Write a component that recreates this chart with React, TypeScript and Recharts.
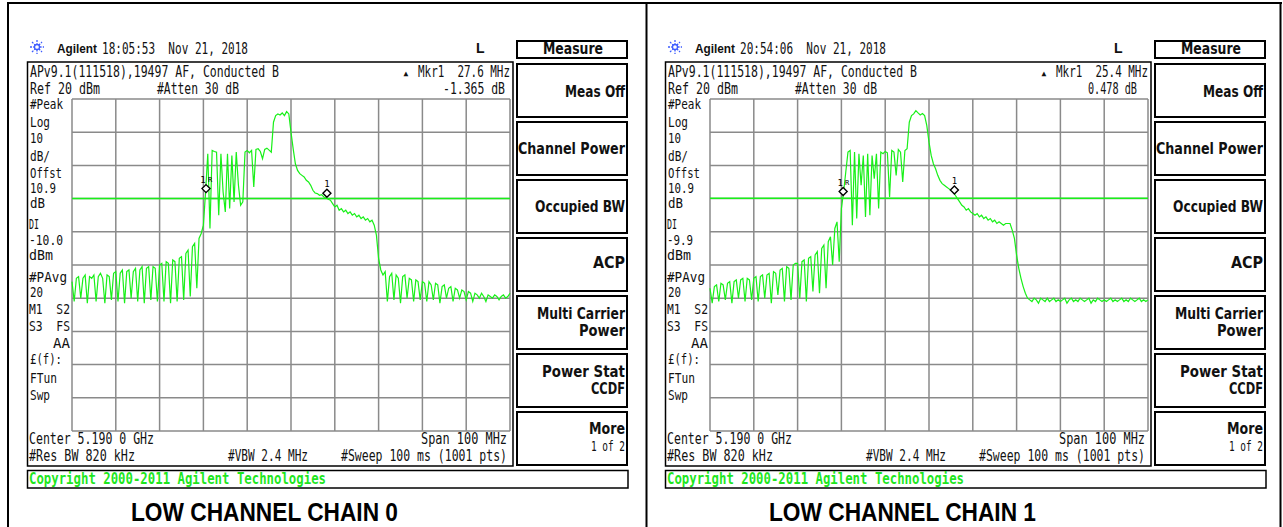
import React from "react";
import { LineChart, Line, XAxis, YAxis, ReferenceLine, ReferenceDot } from "recharts";

// sweep: 5.140 .. 5.240 GHz, one reading every 0.5 MHz
const START_MHZ = 5140;
const STEP_MHZ = 0.5;
const FREQ_TICKS = [5140, 5150, 5160, 5170, 5180, 5190, 5200, 5210, 5220, 5230, 5240];
const LEVEL_TICKS = [-80, -70, -60, -50, -40, -30, -20, -10, 0, 10, 20];

// trace levels in dBm, one row per 10 MHz division
const CHAIN0_DBM = [
  -35, -41, -34, -33.5, -40, -34, -33, -41.5, -33.5, -34, -33, -41, -33.5, -32.5, -34, -41.5, -33, -33.5, -40.5, -32.5,
  -32, -41, -32.5, -31.5, -41.5, -32, -31.5, -40, -32, -31, -41, -31.5, -30.5, -41.5, -31, -30.5, -40.5, -30.5, -31, -41,
  -30, -29.5, -41, -29, -29.5, -41.5, -28.5, -29, -41, -28, -27.5, -40.5, -26.5, -25.5, -39.5, -24.5, -23.5, -37, -22, -20.5,
  -18, -8, 3.5, -19, 4.5, 4.2, 4.0, -15, 3.5, -8, -14, 3.5, -13, 3.0, -11, 4.0, -6, -12, -11, 4.0,
  4.5, 3.8, 4.5, -6.5, 4.8, 5.0, 4.2, 2, 4.8, 5.2, 4.6, 4.0, 13, 15.0, 15.5, 15.2, 15.8, 15.0, 16.2, 15.5,
  10, 5, 0.5, -1.5, -2.5, -3, -3.5, -4.5, -5, -6, -7.5, -8.3, -8.5, -9, -8.8, -9.5, -9.8, -10.2, -10.5, -11.5,
  -12.5, -12, -13.5, -13, -14, -13.5, -14.5, -14, -15, -14.5, -15.5, -15, -16, -15.5, -16.5, -16, -17, -16.5, -18, -21,
  -28, -31.5, -33, -32, -41, -33.5, -32.5, -40.5, -33, -34, -41.5, -33.5, -33, -40, -34, -34.5, -41, -34.5, -35, -40.5,
  -35, -35.5, -41, -35, -36, -40.5, -35.5, -36, -41.5, -36.5, -36, -40, -37, -36.5, -41, -37, -37.5, -40, -37.5, -38,
  -40.5, -38, -38.5, -41, -38.5, -39, -40, -38.5, -39.5, -41, -39, -39.5, -40, -39, -39.5, -40.5, -39.5, -39, -40, -39.5,
  -38.5,
];

const CHAIN1_DBM = [
  -37, -41.5, -36.5, -36, -41, -35.5, -36, -40.5, -35.5, -35, -41.5, -35, -34.5, -40, -34.5, -34, -41, -34, -34.5, -40.5,
  -34, -33.5, -41, -33.5, -33, -40, -33, -32.5, -41.5, -32, -32.5, -39, -31.5, -31, -41, -30.5, -31, -40.5, -30, -29.5,
  -29.5, -40, -29, -28.5, -41, -28, -27.5, -38, -27, -26, -38.5, -25, -24, -37, -23, -21.5, -30, -19, -17, -29,
  -13, -8, -2, 4.0, 4.5, -18, 4.0, -16, 3.5, -6, 3.0, -15.5, 3.5, -15, 3.0, -4, 3.5, -13, 4.0, 3.5,
  4.2, 3.8, -9.5, 4.5, 4.0, -3, 4.8, 4.0, -5, 4.5, 5.0, 13, 15, 15.5, 16.5, 15.8, 15.2, 15.6, 15.0, 12,
  7, 3, 0.5, -1, -3, -4.5, -5.5, -6, -6.5, -7, -7.5, -8, -9, -10, -11, -12, -12.5, -13.5, -13, -14,
  -14.5, -15, -14.5, -15.5, -15, -16, -15.5, -16.5, -16, -17, -16.5, -17.5, -17, -17.5, -18, -17.5, -17.5, -17.5, -19.5, -22,
  -27, -31, -34, -36.5, -38.5, -40, -40.5, -41, -40, -40.5, -41.5, -40, -40.5, -41, -40, -41, -40.5, -40, -41, -40.5,
  -41, -40.5, -40, -41.5, -40.5, -40, -41, -40.5, -41, -40, -40.5, -41, -40.5, -40, -41.5, -40.5, -41, -40, -40.5, -41,
  -40.5, -41, -40.5, -40, -41, -40.5, -41, -40.5, -40, -41, -40.5, -41, -40, -40.5, -41, -40.5, -40, -41, -40.5, -41,
  -40.5,
];

const CHAIN0_MARKERS = [
  { name: "1R", f: 5170.6, dbm: -8.5 },
  { name: "1", f: 5198.2, dbm: -9.9 },
];
const CHAIN1_MARKERS = [
  { name: "1R", f: 5170.4, dbm: -9.4 },
  { name: "1", f: 5195.8, dbm: -8.9 },
];

const CHAIN0_DL = -10.0;
const CHAIN1_DL = -9.9;

const MONO = "'DejaVu Sans Mono', monospace";
const SANS = "'Liberation Sans', Arial, sans-serif";
const KEY = "'DejaVu Sans', sans-serif";
const TRACE = "#18f018";
const GRID = "#8a8a8a";

function T({ x, y, w, size = 15.5, bold = false, anchor = "start", font = MONO, fill = "#111", children }: any) {
  const fit = w ? { textLength: w, lengthAdjust: "spacingAndGlyphs" } : {};
  return (
    <text
      x={x}
      y={y}
      fontSize={size}
      fontFamily={font}
      fontWeight={bold ? 700 : 400}
      textAnchor={anchor}
      fill={fill}
      style={{ whiteSpace: "pre" }}
      {...fit}
    >
      {children}
    </text>
  );
}

// left-hand annotation column, a bit smaller so the rows do not collide
function S(props: any) {
  return <T size={14} {...props} />;
}

function Star({ cx, cy }: { cx: number; cy: number }) {
  const c = "#3d5cff";
  return (
    <g stroke={c} strokeWidth={1.3} strokeDasharray="2 1.2">
      <line x1={cx - 7} y1={cy} x2={cx + 7} y2={cy} />
      <line x1={cx} y1={cy - 7} x2={cx} y2={cy + 7} />
      <line x1={cx - 5} y1={cy - 5} x2={cx + 5} y2={cy + 5} />
      <line x1={cx - 5} y1={cy + 5} x2={cx + 5} y2={cy - 5} />
      <circle cx={cx} cy={cy} r={2.5} fill="#fff" strokeDasharray="none" />
    </g>
  );
}

function MarkerShape({ cx, cy, name }: any) {
  const y = cy - 5;
  return (
    <g>
      <path d={`M${cx},${y - 4} L${cx + 4},${y} L${cx},${y + 4} L${cx - 4},${y} Z`} fill="#fff" stroke="#000" strokeWidth={1.4} />
      {name.length > 1 ? (
        <>
          <text x={cx - 3} y={y - 6} fontSize={9} fontFamily={MONO} textAnchor="middle">{name[0]}</text>
          <text x={cx + 4} y={y - 7} fontSize={7} fontFamily={MONO} textAnchor="middle">{name.slice(1)}</text>
        </>
      ) : (
        <text x={cx} y={y - 6} fontSize={9} fontFamily={MONO} textAnchor="middle">{name}</text>
      )}
    </g>
  );
}

const KEY_TOPS = [63, 121, 179, 237, 295, 353, 411];

function Panel({ ox, time, mkr, delta, deltaW, deltaEnd, dlText, dlW, dl, dbm, markers, title }: any) {
  const data = dbm.map((v: number, i: number) => ({ f: START_MHZ + i * STEP_MHZ, v }));
  return (
    <>
      <svg width={645} height={527} style={{ position: "absolute", left: ox, top: 0 }}>
        <Star cx={37} cy={47} />
        <T x={57} y={53} w={40} size={13} bold font={SANS}>Agilent</T>
        <T x={102} y={54} w={146}>{time}</T>
        <T x={476} y={53} size={14} bold font={SANS}>L</T>

        <rect x={517} y={41} width={110} height={17} fill="none" stroke="#000" strokeWidth={2} />
        <T x={573} y={54} w={60} size={15} anchor="middle" bold font={KEY}>Measure</T>
        {KEY_TOPS.map((t) => (
          <rect key={t} x={517} y={t + 1} width={110} height={53} fill="none" stroke="#000" strokeWidth={2} />
        ))}
        <T x={625} y={97} w={60} size={15} anchor="end" bold font={KEY}>Meas Off</T>
        <T x={625} y={154} w={107} size={15} anchor="end" bold font={KEY}>Channel Power</T>
        <T x={625} y={212} w={90} size={15} anchor="end" bold font={KEY}>Occupied BW</T>
        <T x={625} y={268} w={32} size={15} anchor="end" bold font={KEY}>ACP</T>
        <T x={625} y={319} w={88} size={15} anchor="end" bold font={KEY}>Multi Carrier</T>
        <T x={625} y={336} w={46} size={15} anchor="end" bold font={KEY}>Power</T>
        <T x={625} y={377} w={83} size={15} anchor="end" bold font={KEY}>Power Stat</T>
        <T x={625} y={394} w={34} size={15} anchor="end" bold font={KEY}>CCDF</T>
        <T x={625} y={434} w={36} size={15} anchor="end" bold font={KEY}>More</T>
        <T x={625} y={451} w={34} size={14} anchor="end">1 of 2</T>

        <rect x={27.5} y={62} width={485.5} height={404} fill="none" stroke="#000" strokeWidth={1.5} />
        <T x={30} y={77} w={249}>APv9.1(111518),19497 AF, Conducted B</T>
        <T x={406} y={76} size={8} anchor="middle">▲</T>
        <T x={510} y={77} w={92} anchor="end">{mkr}</T>
        <T x={30} y={94} w={70}>Ref 20 dBm</T>
        <T x={157} y={94} w={82}>#Atten 30 dB</T>
        <T x={deltaEnd} y={94} w={deltaW} anchor="end">{delta}</T>

        <S x={30} y={109} w={33}>#Peak</S>
        <S x={30} y={127} w={20}>Log</S>
        <S x={30} y={143} w={13}>10</S>
        <S x={30} y={161} w={20}>dB/</S>
        <S x={30} y={178} w={32}>Offst</S>
        <S x={30} y={193} w={26}>10.9</S>
        <S x={30} y={208} w={15}>dB</S>
        <S x={29} y={229} w={10}>DI</S>
        <S x={29} y={245} w={dlW}>{dlText}</S>
        <S x={29} y={260} w={24}>dBm</S>
        <S x={29} y={282} w={38}>#PAvg</S>
        <S x={30} y={297} w={13}>20</S>
        <S x={29} y={314} w={41}>M1  S2</S>
        <S x={29} y={331} w={41}>S3  FS</S>
        <S x={53} y={348} w={17}>AA</S>
        <S x={30} y={364} w={32}>£(f):</S>
        <S x={30} y={383} w={27}>FTun</S>
        <S x={30} y={400} w={20}>Swp</S>

        <T x={29} y={444} w={125}>Center 5.190 0 GHz</T>
        <T x={507} y={444} w={86} anchor="end">Span 100 MHz</T>
        <T x={29} y={461} w={106}>#Res BW 820 kHz</T>
        <T x={228} y={461} w={80}>#VBW 2.4 MHz</T>
        <T x={507} y={461} w={166} anchor="end">#Sweep 100 ms (1001 pts)</T>

        <rect x={27.5} y={470.5} width={600.5} height={17.5} fill="none" stroke="#000" strokeWidth={1.5} />
        <T x={29} y={484} w={297} bold fill="#1ee61e">Copyright 2000-2011 Agilent Technologies</T>

        <T x={131} y={521} w={267} size={25} bold font={SANS} fill="#000">{title}</T>
      </svg>
      <div style={{ position: "absolute", left: ox + 71, top: 98 }}>
        <LineChart width={440} height={334} data={data} margin={{ top: 1, right: 1, bottom: 1, left: 1 }}>
          <XAxis dataKey="f" type="number" domain={[5140, 5240]} ticks={FREQ_TICKS} height={0} tick={false} axisLine={false} tickLine={false} />
          <YAxis type="number" domain={[-80, 20]} ticks={LEVEL_TICKS} width={0} tick={false} axisLine={false} tickLine={false} />
          {FREQ_TICKS.map((t) => (
            <ReferenceLine key={"x" + t} x={t} stroke={GRID} strokeWidth={1.5} />
          ))}
          {LEVEL_TICKS.map((t) => (
            <ReferenceLine key={"y" + t} y={t} stroke={GRID} strokeWidth={1.5} />
          ))}
          <ReferenceLine y={dl} stroke={TRACE} strokeWidth={1.5} />
          <Line dataKey="v" type="linear" stroke={TRACE} strokeWidth={1.2} dot={false} isAnimationActive={false} />
          {markers.map((m: any) => (
            <ReferenceDot key={m.name} x={m.f} y={m.dbm} r={4} ifOverflow="visible" shape={(p: any) => <MarkerShape {...p} name={m.name} />} />
          ))}
        </LineChart>
      </div>
    </>
  );
}

export default function App() {
  return (
    <div style={{ position: "relative", width: 1283, height: 527, background: "#fff", overflow: "hidden" }}>
      <style>{"body{margin:0}"}</style>
      <svg width={1283} height={527} style={{ position: "absolute", left: 0, top: 0 }}>
        <rect x={7} y={2} width={1275} height={2} fill="#000" />
        <rect x={7} y={2} width={2} height={525} fill="#000" />
        <rect x={645.5} y={2} width={2} height={525} fill="#000" />
        <rect x={1279.5} y={2} width={2} height={525} fill="#000" />
      </svg>
      <Panel
        ox={0}
        time="18:05:53  Nov 21, 2018"
        mkr="Mkr1  27.6 MHz"
        delta="-1.365 dB"
        deltaW={62}
        deltaEnd={505}
        dlText="-10.0"
        dlW={34}
        dl={CHAIN0_DL}
        dbm={CHAIN0_DBM}
        markers={CHAIN0_MARKERS}
        title="LOW CHANNEL CHAIN 0"
      />
      <Panel
        ox={638}
        time="20:54:06  Nov 21, 2018"
        mkr="Mkr1  25.4 MHz"
        delta="0.478 dB"
        deltaW={49}
        deltaEnd={499}
        dlText="-9.9"
        dlW={26}
        dl={CHAIN1_DL}
        dbm={CHAIN1_DBM}
        markers={CHAIN1_MARKERS}
        title="LOW CHANNEL CHAIN 1"
      />
    </div>
  );
}
